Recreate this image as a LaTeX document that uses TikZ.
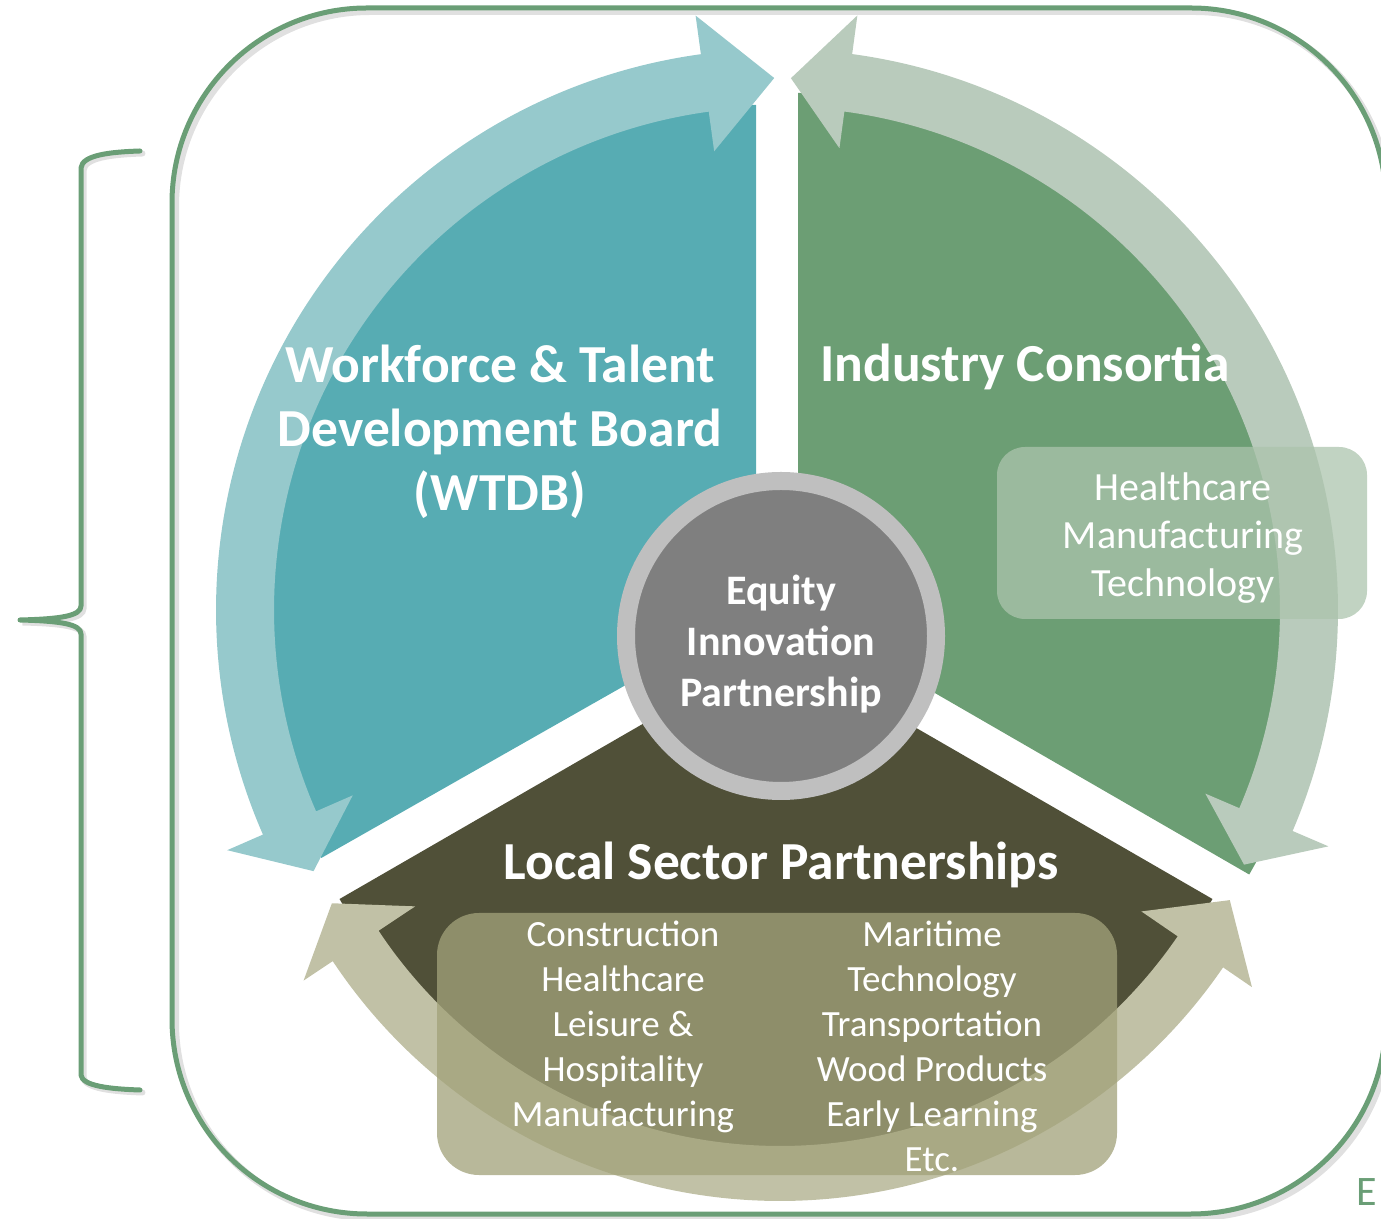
\documentclass[tikz,border=0pt]{standalone}
\usepackage{fontspec}
\setmainfont{Carlito}
\usetikzlibrary{calc}
\definecolor{tealS}{HTML}{57ACB3}
\definecolor{tealA}{HTML}{96C9CC}
\definecolor{greenS}{HTML}{6C9E74}
\definecolor{greenA}{HTML}{B9CBBC}
\definecolor{oliveS}{HTML}{505038}
\definecolor{oliveA}{HTML}{C1C1A6}
\definecolor{ringgray}{HTML}{BFBFBF}
\definecolor{hubgray}{HTML}{7F7F7F}
\definecolor{framegreen}{HTML}{6A9E76}
\definecolor{gboxfill}{HTML}{ACC4AD}
\definecolor{oboxfill}{HTML}{A2A27A}
\newcommand{\cyclearrow}[5]{($(#1)+(#2:\Rm)$) -- ($(#1)+(#3:\Wo)$) -- ($(#1)+(#3:\Ro)$) arc[start angle=#3, end angle=#4, radius=\Ro] -- ($(#1)+(#4:\Wo)$) -- ($(#1)+(#5:\Rm)$) -- ($(#1)+(#4:\Wi)$) -- ($(#1)+(#4:\Ri)$) arc[start angle=#4, end angle=#3, radius=\Ri] -- ($(#1)+(#3:\Wi)$) -- cycle}
\begin{document}
\begin{tikzpicture}[x=1pt,y=1pt,
  title/.style={text=white, font=\bfseries\fontsize{53.5}{64}\selectfont, align=center, inner sep=0pt},
  hubtext/.style={text=white, font=\bfseries\fontsize{42}{51}\selectfont, align=center, inner sep=0pt},
  gboxtext/.style={text=white, font=\fontsize{40}{48}\selectfont, align=center, inner sep=0pt},
  oboxtext/.style={text=white, font=\fontsize{37}{45}\selectfont, align=center, inner sep=0pt},
  framestyle/.style={draw=framegreen, line width=5pt, rounded corners=195pt},
  bracestyle/.style={draw=framegreen, line width=5pt, line cap=round, line join=round},
  listbox/.style={rectangle, inner sep=0pt}]
\useasboundingbox (0,0) rectangle (1381,1218);
% frame with soft shadow
\draw[draw=black, opacity=0.12, line width=7pt, rounded corners=195pt] (175.5,0.5) rectangle (1389.5,1206.5);
\draw[framestyle] (172,4) rectangle (1386,1210);
% left brace
\draw[draw=black, opacity=0.12, line width=6pt, line cap=round] (142.5,1064.5) .. controls (112.5,1063.5) and (84.5,1060.5) .. (83.5,1047.5) -- (83.5,609.5) .. controls (83.5,599.5) and (62.5,596.5) .. (22.5,595.5) .. controls (62.5,594.5) and (83.5,591.5) .. (83.5,581.5) -- (83.5,140.5) .. controls (84.5,129.5) and (112.5,126.5) .. (142.5,125.5);
\draw[bracestyle] (140,1067) .. controls (110,1066) and (82,1063) .. (81,1050) -- (81,612) .. controls (81,602) and (60,599) .. (20,598) .. controls (60,597) and (81,594) .. (81,584) -- (81,143) .. controls (82,132) and (110,129) .. (140,128);
% centres
\coordinate (A) at (777,608);
\coordinate (O) at (780,554);
\coordinate (T) at (756,607);
\coordinate (G) at (798,604);
\coordinate (L) at (776,571);
\coordinate (C) at (781,582);
% sectors
\fill[tealS] (T) -- ($(T)+(90:506pt)$) arc[start angle=90, end angle=210, radius=502pt] -- cycle;
\fill[greenS] (G) -- ($(G)+(-30:521pt)$) arc[start angle=-30, end angle=90, radius=521pt] -- cycle;
\fill[oliveS] (L) -- ($(L)+(210:504pt)$) arc[start angle=210, end angle=330, radius=504pt] -- cycle;
% arrows
\def\Ri{503pt}\def\Ro{561pt}\def\Wi{463pt}\def\Wo{600pt}\def\Rm{532pt}
\fill[tealA] \cyclearrow{A}{90.3}{97.8}{203.6}{209.4};
\def\Wi{466pt}
\fill[greenA] \cyclearrow{A}{-28.6}{-23.2}{82.3}{88.5};
\def\Ri{482pt}\def\Ro{537pt}\def\Wi{438pt}\def\Wo{572pt}\def\Rm{508pt}
\fill[oliveA] \cyclearrow{O}{208.1}{213.6}{325.6}{332.3};
% hub
\node[circle, draw=ringgray, line width=18pt, fill=hubgray, minimum size=310pt, inner sep=0pt] (hub) at (C) {};
\node[hubtext] (hubtxt) at (781,574) {Equity\\Innovation\\Partnership};
% boxes
\node[listbox, fill=gboxfill, fill opacity=0.75, rounded corners=28pt, minimum width=370pt, minimum height=172pt] (gbox) at (1182,685) {};
\node[listbox, fill=oboxfill, fill opacity=0.76, rounded corners=42pt, minimum width=680pt, minimum height=262pt] (obox) at (777,174) {};
% texts
\node[title] (wtdb) at (500,786) {Workforce \& Talent\\Development Board\\(WTDB)};
\node[title] (ind) at (1025,851) {Industry Consortia};
\node[title] (lsp) at (781,353) {Local Sector Partnerships};
\node[gboxtext] (glist) at (1183,680) {Healthcare\\Manufacturing\\Technology};
\node[oboxtext] (olistL) at (623,191) {Construction\\Healthcare\\Leisure \&\\Hospitality\\Manufacturing};
\node[oboxtext] (olistR) at (932,172) {Maritime\\Technology\\Transportation\\Wood Products\\Early Learning\\Etc.};
\node[anchor=base west, inner sep=0pt, text=framegreen, font=\fontsize{42}{50}\selectfont] (cut) at (1356,13) {E};
\end{tikzpicture}
\end{document}
